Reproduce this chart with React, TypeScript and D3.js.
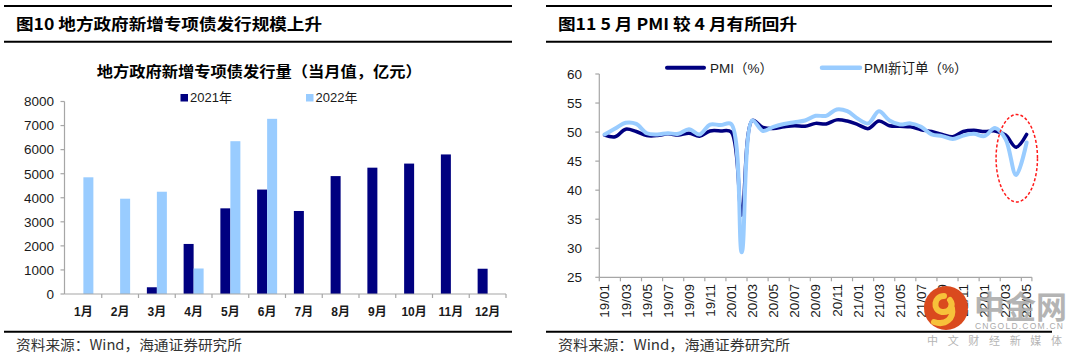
import React from 'react';
import * as d3 from 'd3';

// ---------- Left chart data ----------
const months = ['1月', '2月', '3月', '4月', '5月', '6月', '7月', '8月', '9月', '10月', '11月', '12月'];
const issuance2021 = [0, 0, 280, 2080, 3560, 4340, 3450, 4900, 5250, 5420, 5800, 1050];
const issuance2022 = [4850, 3960, 4250, 1060, 6350, 7280, null, null, null, null, null, null];
const barTicks = [0, 1000, 2000, 3000, 4000, 5000, 6000, 7000, 8000];

// ---------- Right chart data ----------
const pmiDates = [
  '19/01', '19/02', '19/03', '19/04', '19/05', '19/06', '19/07', '19/08', '19/09', '19/10', '19/11', '19/12',
  '20/01', '20/02', '20/03', '20/04', '20/05', '20/06', '20/07', '20/08', '20/09', '20/10', '20/11', '20/12',
  '21/01', '21/02', '21/03', '21/04', '21/05', '21/06', '21/07', '21/08', '21/09', '21/10', '21/11', '21/12',
  '22/01', '22/02', '22/03', '22/04', '22/05',
];
const pmi = [
  49.5, 49.2, 50.5, 50.1, 49.4, 49.4, 49.7, 49.5, 49.8, 49.3, 50.2, 50.2,
  50.0, 35.7, 52.0, 50.8, 50.6, 50.9, 51.1, 51.0, 51.5, 51.4, 52.1, 51.9,
  51.3, 50.6, 51.9, 51.1, 51.0, 50.9, 50.4, 50.1, 49.6, 49.2, 50.1, 50.3,
  50.1, 50.2, 49.5, 47.4, 49.6,
];
const pmiNewOrders = [
  49.6, 50.6, 51.6, 51.4, 49.8, 49.6, 49.8, 49.7, 50.5, 49.6, 51.3, 51.2,
  51.4, 29.3, 52.0, 50.2, 50.9, 51.4, 51.7, 52.0, 52.8, 52.8, 53.9, 53.6,
  52.3, 51.5, 53.6, 52.0, 51.3, 51.5, 50.9, 49.6, 49.3, 48.8, 49.4, 49.7,
  49.3, 50.7, 48.8, 42.6, 48.2,
];
const pmiTicks = [25, 30, 35, 40, 45, 50, 55, 60];

const DARK = '#000080';
const LIGHT = '#99CCFF';
const AXIS = '#a6a6a6';
const TXT = '#1a1a1a';
const LATIN = '"Liberation Sans", Arial, "Noto Sans CJK SC", sans-serif';
const CJK = '"Noto Sans CJK SC", "Liberation Sans", sans-serif';

function BarChart() {
  const x = d3.scaleBand<string>().domain(months).range([65, 506]);
  const y = d3.scaleLinear().domain([0, 8000]).range([294, 101.5]);
  const barW = 10;
  const bw = x.bandwidth();
  return (
    <g>
      <text x={96.7} y={77} fontFamily={CJK} fontWeight="bold" fontSize={15} fill="#000"
        textLength={325} lengthAdjust="spacingAndGlyphs">地方政府新增专项债发行量（当月值，亿元）</text>
      {/* legend */}
      <rect x={180.5} y={94} width={7.5} height={7.5} fill={DARK} />
      <text x={190} y={102} fontFamily={LATIN} fontSize={13} fill={TXT}>2021年</text>
      <rect x={306} y={94} width={7.5} height={7.5} fill={LIGHT} />
      <text x={315.5} y={102} fontFamily={LATIN} fontSize={13} fill={TXT}>2022年</text>
      {/* bars */}
      {months.map((m, i) => {
        const cx = (x(m) as number) + bw / 2;
        const v1 = issuance2021[i];
        const v2 = issuance2022[i];
        return (
          <g key={m}>
            {v1 ? <rect x={cx - barW} y={y(v1)} width={barW} height={y(0) - y(v1)} fill={DARK} /> : null}
            {v2 ? <rect x={cx} y={y(v2)} width={barW} height={y(0) - y(v2)} fill={LIGHT} /> : null}
          </g>
        );
      })}
      {/* y axis */}
      <line x1={64.5} x2={64.5} y1={y(8000)} y2={y(0)} stroke={AXIS} strokeWidth={1.2} />
      {barTicks.map((t) => (
        <g key={t}>
          <line x1={60.5} x2={64.5} y1={y(t)} y2={y(t)} stroke={AXIS} strokeWidth={1.2} />
          <text x={54} y={y(t)} dy="0.36em" textAnchor="end" fontFamily={LATIN} fontSize={13.5} fill={TXT}>{t}</text>
        </g>
      ))}
      {/* x axis */}
      <line x1={64.5} x2={506} y1={y(0)} y2={y(0)} stroke={AXIS} strokeWidth={1.2} />
      {months.map((m) => (
        <line key={'t' + m} x1={(x(m) as number) + bw} x2={(x(m) as number) + bw} y1={y(0)} y2={y(0) + 4} stroke={AXIS} strokeWidth={1.2} />
      ))}
      {months.map((m) => (
        <text key={'l' + m} x={(x(m) as number) + bw / 2} y={316} textAnchor="middle" fontFamily={LATIN} fontWeight="bold" fontSize={12} fill={TXT}>{m}</text>
      ))}
    </g>
  );
}

function LineChart() {
  const n = pmiDates.length;
  const x0 = 599.3;
  const x1 = 1031.9;
  const xs = d3.scaleLinear().domain([0, n]).range([x0, x1]);
  const px = (i: number) => xs(i + 0.5);
  const y = d3.scaleLinear().domain([25, 60]).range([277.3, 74]);
  const line = d3.line<number>().x((_, i) => px(i)).y((d) => y(d)).curve(d3.curveCatmullRom.alpha(0.5));
  const tickIdx = pmiDates.map((_, i) => i).filter((i) => i % 2 === 0);
  return (
    <g>
      {/* legend */}
      <line x1={667} x2={704} y1={67.7} y2={67.7} stroke={DARK} strokeWidth={4} strokeLinecap="round" />
      <text x={710} y={72.5} fontFamily={LATIN} fontSize={13.5} fill={TXT}>PMI（%）</text>
      <line x1={822} x2={860} y1={67.7} y2={67.7} stroke={LIGHT} strokeWidth={4.5} strokeLinecap="round" />
      <text x={864} y={72.5} fontFamily={LATIN} fontSize={13.5} fill={TXT}>PMI新订单（%）</text>
      {/* y axis */}
      <line x1={x0} x2={x0} y1={y(60)} y2={y(25)} stroke={AXIS} strokeWidth={1.2} />
      {pmiTicks.map((t) => (
        <g key={t}>
          <line x1={x0 - 4} x2={x0} y1={y(t)} y2={y(t)} stroke={AXIS} strokeWidth={1.2} />
          <text x={582} y={y(t)} dy="0.36em" textAnchor="end" fontFamily={LATIN} fontSize={13.5} fill={TXT}>{t}</text>
        </g>
      ))}
      {/* x axis */}
      <line x1={x0} x2={x1} y1={y(25)} y2={y(25)} stroke={AXIS} strokeWidth={1.2} />
      {tickIdx.map((i) => (
        <line key={'t' + i} x1={xs(i)} x2={xs(i)} y1={y(25)} y2={y(25) + 4} stroke={AXIS} strokeWidth={1.2} />
      ))}
      <line x1={x1} x2={x1} y1={y(25)} y2={y(25) + 4} stroke={AXIS} strokeWidth={1.2} />
      {tickIdx.map((i) => (
        <text key={'l' + i} transform={`translate(${px(i)},${284}) rotate(-90)`} dy="0.36em" textAnchor="end"
          fontFamily={LATIN} fontSize={13.5} fill={TXT}>{pmiDates[i]}</text>
      ))}
      {/* lines */}
      <path d={line(pmi) || ''} fill="none" stroke={DARK} strokeWidth={3.5} strokeLinejoin="round" strokeLinecap="round" />
      <path d={line(pmiNewOrders) || ''} fill="none" stroke={LIGHT} strokeWidth={4} strokeLinejoin="round" strokeLinecap="round" />
      {/* annotation ellipse */}
      <ellipse cx={px(39) + 0.7} cy={y(45.5)} rx={20.7} ry={43.7} fill="none" stroke="#FF1A1A" strokeWidth={1.5} strokeDasharray="3 2" />
    </g>
  );
}

function Frame() {
  return (
    <g>
      {/* left panel rules */}
      <line x1={4} x2={512} y1={6} y2={6} stroke="#000" strokeWidth={2} />
      <line x1={4} x2={512} y1={41.7} y2={41.7} stroke="#000" strokeWidth={2} />
      <line x1={4} x2={512} y1={331.7} y2={331.7} stroke="#000" strokeWidth={2} />
      <text x={16} y={30} fontFamily={CJK} fontWeight="bold" fontSize={16} fill="#000" textLength={306} lengthAdjust="spacingAndGlyphs">图10 地方政府新增专项债发行规模上升</text>
      <text x={16} y={350} fontFamily={CJK} fontSize={14} fill="#333" textLength={226} lengthAdjust="spacingAndGlyphs">资料来源：Wind，海通证券研究所</text>
      {/* right panel rules */}
      <line x1={546} x2={1052} y1={6} y2={6} stroke="#000" strokeWidth={2} />
      <line x1={546} x2={1052} y1={41.7} y2={41.7} stroke="#000" strokeWidth={2} />
      <line x1={546} x2={1052} y1={331.7} y2={331.7} stroke="#000" strokeWidth={2} />
      <text x={558} y={30} fontFamily={CJK} fontWeight="bold" fontSize={16} fill="#000" textLength={239} lengthAdjust="spacingAndGlyphs">图11 5 月 PMI 较 4 月有所回升</text>
      <text x={558} y={350} fontFamily={CJK} fontSize={14} fill="#333" textLength={232} lengthAdjust="spacingAndGlyphs">资料来源：Wind，海通证券研究所</text>
    </g>
  );
}

function Watermark() {
  return (
    <g>
      <circle cx={946} cy={308} r={22} fill="#DA4A1E" />
      <path d="M 944 296 C 934 296 932 310 942 312 C 950 313 954 305 950 300 M 952 308 C 954 318 946 326 934 322"
        fill="none" stroke="#F7C23A" strokeWidth={6} strokeLinecap="round" />
      <text x={974} y={318} fontFamily={CJK} fontWeight="bold" fontSize={31} fill="#a8a8a8" opacity={0.85}
        textLength={93} lengthAdjust="spacingAndGlyphs">中金网</text>
      <text x={975} y={329} fontFamily={LATIN} fontSize={8.5} fill="#aaaaaa" textLength={88} lengthAdjust="spacing">CNGOLD.COM.CN</text>
      <text x={927} y={345} fontFamily={CJK} fontSize={11} fill="#b5b5b5" textLength={135} lengthAdjust="spacing">中文财经新媒体</text>
    </g>
  );
}

export default function App() {
  return (
    <svg width={1080} height={358} viewBox="0 0 1080 358" style={{ position: 'absolute', left: 0, top: 0, background: '#fff' }}>
      <rect x={0} y={0} width={1080} height={358} fill="#fff" />
      <Frame />
      <BarChart />
      <LineChart />
      <Watermark />
    </svg>
  );
}
